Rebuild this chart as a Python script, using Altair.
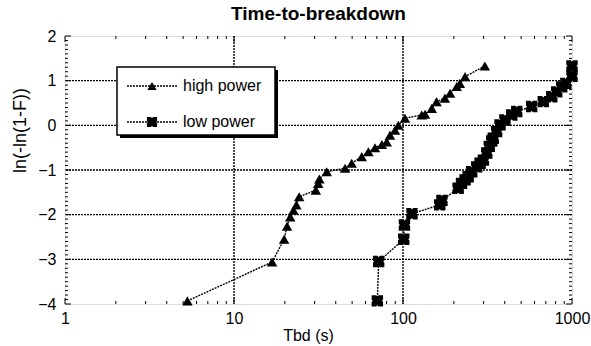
import altair as alt
import pandas as pd

# ---- data ----
hp_t = [5.3, 16.8, 19.8, 20.6, 21.5, 22.5, 23.4, 24.3, 30.5, 31.5, 32.0, 35.4, 45.4, 49.7,
        57.0, 62.4, 68.3, 75.0, 80.1, 83.8, 89.7, 93.8, 102.7, 129, 135, 148, 158, 177,
        190, 208, 217, 233, 305]
hp_y = [-3.93, -3.06, -2.55, -2.26, -2.05, -1.90, -1.78, -1.60, -1.45, -1.30, -1.20, -1.04,
        -0.96, -0.85, -0.70, -0.59, -0.50, -0.43, -0.37, -0.22, -0.11, 0.0, 0.16, 0.23, 0.25,
        0.38, 0.53, 0.61, 0.72, 0.87, 0.94, 1.09, 1.33]

lp_t = [70.5, 71.8, 101, 102, 113, 165, 170, 212, 222, 233, 243, 255, 273, 286, 299, 313,
        324, 335, 342, 358, 375, 401, 440, 471, 577, 676, 759, 812, 869, 920, 1000, 1000]
lp_y = [-3.93, -3.05, -2.55, -2.23, -1.98, -1.78, -1.68, -1.41, -1.30, -1.22, -1.15, -1.04,
        -0.93, -0.85, -0.78, -0.62, -0.47, -0.35, -0.29, -0.14, 0.01, 0.12, 0.23, 0.31, 0.42,
        0.53, 0.64, 0.75, 0.86, 0.94, 1.10, 1.33]

x_major = [1, 10, 100, 1000]
x_minor = [m * d for d in [1, 10, 100] for m in range(2, 10)]
x_grid = [10, 100]
y_major = [-4, -3, -2, -1, 0, 1, 2]
y_grid = [-3, -2, -1, 0, 1]
y_minor = [round(-4 + 0.1 * k, 1) for k in range(61) if k % 10 != 0]

series_names = ["high power", "low power"]

W, H = 507, 268
FONT = "Liberation Sans"
DASH = [2, 1]

xs = alt.Scale(type="log", domain=[1, 1000])
ys = alt.Scale(domain=[-4, 2], nice=False, zero=False)

XAX = alt.Axis(values=x_major, format="d", grid=False, ticks=False, domain=False,
               labelFont=FONT, labelFontSize=16, labelColor="black", labelFlush=False,
               labelPadding=6, titleFont=FONT, titleFontSize=16, titleX=243,
               titleFontWeight="normal", titleColor="black", titlePadding=1)
YAX = alt.Axis(values=y_major, grid=False, ticks=False, domain=False,
               labelFont=FONT, labelFontSize=16, labelColor="black", labelFlush=False,
               labelPadding=9, titleFont=FONT, titleFontSize=18, titleY=94,
               titleFontWeight="normal", titleColor="black", titlePadding=8)


def X(f):
    return alt.X(f, scale=xs, axis=XAX, title="Tbd (s)")


def Y(f):
    return alt.Y(f, scale=ys, axis=YAX, title="ln(-ln(1-F))")


hp = pd.DataFrame({"t": hp_t, "y": hp_y, "i": range(len(hp_t))})
lp = pd.DataFrame({"t": lp_t, "y": lp_y, "i": range(len(lp_t))})

LW = 1.4

gx = alt.Chart(pd.DataFrame({"g": x_grid})).mark_rule(
    color="black", strokeWidth=LW, strokeDash=DASH).encode(x=X("g:Q"))
gy = alt.Chart(pd.DataFrame({"g": y_grid})).mark_rule(
    color="black", strokeWidth=LW, strokeDash=DASH).encode(y=Y("g:Q"))


def xticks(vals, ln):
    df = pd.DataFrame({"k": vals})
    b = alt.Chart(df).mark_rule(color="black", strokeWidth=1).encode(
        x=X("k:Q"), y=alt.value(H), y2=alt.value(H - ln))
    t = alt.Chart(df).mark_rule(color="black", strokeWidth=1).encode(
        x=X("k:Q"), y=alt.value(0), y2=alt.value(ln))
    return b + t


def yticks(vals, ln):
    df = pd.DataFrame({"k": vals})
    l = alt.Chart(df).mark_rule(color="black", strokeWidth=1).encode(
        y=Y("k:Q"), x=alt.value(0), x2=alt.value(ln))
    r = alt.Chart(df).mark_rule(color="black", strokeWidth=1).encode(
        y=Y("k:Q"), x=alt.value(W), x2=alt.value(W - ln))
    return l + r


def series(df, shape, size):
    line = alt.Chart(df).mark_line(color="black", strokeWidth=LW, strokeDash=DASH).encode(
        x=X("t:Q"), y=Y("y:Q"), order="i:Q")
    pts = alt.Chart(df).mark_point(shape=shape, filled=True, color="black", opacity=1,
                                   size=size).encode(x=X("t:Q"), y=Y("y:Q"))
    return line + pts


SQ = "M-1,-1L-0.2,-1L0,-0.75L0.2,-1L1,-1L1,-0.2L0.8,0L1,0.2L1,1L0.2,1L0,0.75L-0.2,1L-1,1L-1,0.2L-0.8,0L-1,-0.2Z"
TRI_SIZE, SQ_SIZE = 110, 130

# legend box
one = pd.DataFrame({"a": [0]})
LX0, LX1, LY0, LY1 = 52, 210, 31, 99
shadow = alt.Chart(one).mark_rect(color="black").encode(
    x=alt.value(LX0 + 3), x2=alt.value(LX1 + 3), y=alt.value(LY0 + 3), y2=alt.value(LY1 + 3))
box = alt.Chart(one).mark_rect(fill="white", stroke="black", strokeWidth=1.5).encode(
    x=alt.value(LX0), x2=alt.value(LX1), y=alt.value(LY0), y2=alt.value(LY1))

rows_y = [50, 86]
leg_layers = []
for r, (name, shape, size) in enumerate(zip(series_names, ["triangle-up", SQ], [TRI_SIZE, SQ_SIZE])):
    d = pd.DataFrame({"name": [name]})
    leg_layers.append(alt.Chart(d).mark_rule(color="black", strokeWidth=LW, strokeDash=DASH).encode(
        x=alt.value(62), x2=alt.value(112), y=alt.value(rows_y[r])))
    leg_layers.append(alt.Chart(d).mark_point(shape=shape, filled=True, color="black",
                                              opacity=1, size=size * 0.8).encode(
        x=alt.value(87), y=alt.value(rows_y[r])))
    leg_layers.append(alt.Chart(d).mark_text(align="left", baseline="middle", font=FONT,
                                             fontSize=16, color="black").encode(
        x=alt.value(118), y=alt.value(rows_y[r]), text="name:N"))

chart = alt.layer(
    gx, gy,
    xticks(x_major, 6), xticks(x_minor, 3),
    yticks(y_major, 6), yticks(y_minor, 3),
    series(hp, "triangle-up", TRI_SIZE), series(lp, SQ, SQ_SIZE),
    shadow, box, *leg_layers,
).properties(
    width=W, height=H,
    title=alt.TitleParams("Time-to-breakdown", font=FONT, fontSize=19, fontWeight="bold",
                          color="black", anchor="middle", offset=4),
    padding={"left": 65, "top": 36, "right": 19, "bottom": 42},
    autosize=alt.AutoSizeParams(type="none"),
).configure_view(
    stroke="black", strokeWidth=2, strokeDash=DASH
).configure(background="white")

chart.save("out.html", embed_options={"renderer": "svg", "actions": False})
